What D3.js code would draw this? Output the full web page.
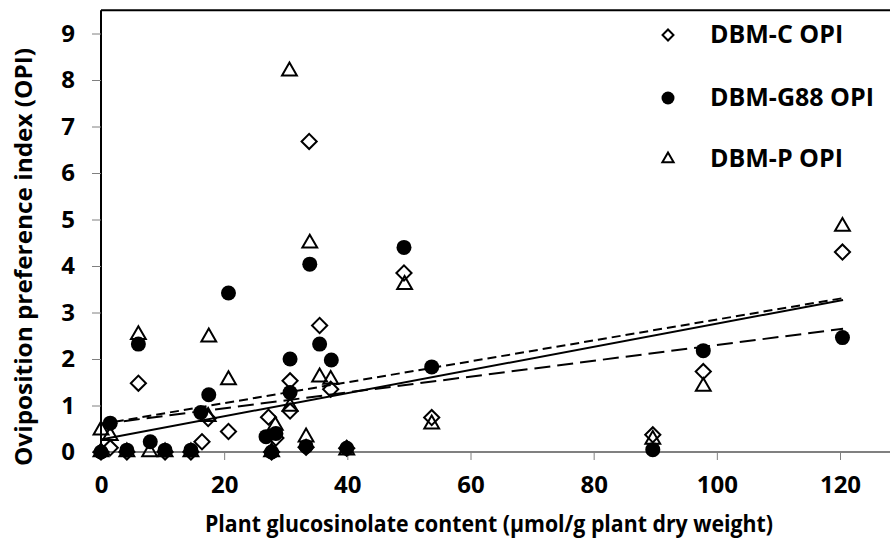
<!DOCTYPE html>
<html>
<head>
<meta charset="utf-8">
<script src="https://cdn.jsdelivr.net/npm/d3@7"></script>
<style>
    body { margin: 0; background: #fff; }
    text { font-family: "Open Sans", sans-serif; font-weight: 700; fill: #000; }
</style>
</head>
<body>
<div id="chart"></div>
<script>
"use strict";

// Values: [glucosinolate, OPI]
let dbmC = [[0, 0], [1.5, 0.09], [4.2, 0], [6.07, 1.48], [10.4, 0], [14.6, 0], [16.4, 0.22],
    [17.4, 0.72], [20.7, 0.44], [27.2, 0.75], [27.7, 0], [28.4, 0.3], [30.7, 1.53], [30.7, 0.88],
    [33.3, 0.1], [33.8, 6.68], [35.5, 2.72], [37.3, 1.35], [39.9, 0.08], [49.2, 3.85],
    [53.7, 0.74], [89.6, 0.37], [97.8, 1.73], [120.4, 4.3]];

let dbmG88 = [[0, 0], [1.5, 0.62], [4.2, 0.04], [6.07, 2.32], [8.0, 0.22], [10.4, 0.04],
    [14.6, 0.04], [16.2, 0.85], [17.5, 1.23], [20.7, 3.42], [26.8, 0.33], [27.7, 0], [28.4, 0.4],
    [30.7, 2.0], [30.7, 1.28], [33.3, 0.12], [33.9, 4.04], [35.5, 2.32], [37.4, 1.98],
    [39.9, 0.08], [49.2, 4.4], [53.7, 1.83], [89.6, 0.05], [97.8, 2.18], [120.4, 2.46]];

let dbmP = [[0, 0.47], [0, 0], [1.5, 0.35], [4.2, 0], [6.07, 2.52], [7.9, 0], [10.4, 0],
    [14.6, 0], [17.4, 0.76], [17.5, 2.47], [20.7, 1.55], [27.7, 0], [28.3, 0.57], [30.6, 8.19],
    [30.7, 0.98], [33.3, 0.32], [33.9, 4.49], [35.5, 1.61], [37.3, 1.56], [39.9, 0.04],
    [49.3, 3.6], [53.7, 0.6], [89.6, 0.27], [97.8, 1.41], [120.4, 4.85]];

// Linear trend lines, start and end point
let trendC = [[0, 0.27], [120.5, 3.27]];
let trendG88 = [[0, 0.6], [120.5, 2.65]];
let trendP = [[0, 0.6], [120.5, 3.31]];

let xTicks = [0, 20, 40, 60, 80, 100, 120];
let yTicks = [0, 1, 2, 3, 4, 5, 6, 7, 8, 9];
let legendNames = ["DBM-C OPI", "DBM-G88 OPI", "DBM-P OPI"];

let width = 890;
let height = 548;

let xScale = d3.scaleLinear().domain([0, 120]).range([101, 840]);
let yScale = d3.scaleLinear().domain([0, 9]).range([452, 33.5]);

let svg = d3.select("#chart").append("svg")
    .attr("width", width).attr("height", height);

// Plot frame (runs off the right edge like the original)
svg.append("line")
    .attr("x1", xScale(0)).attr("x2", xScale(135))
    .attr("y1", yScale(9.5)).attr("y2", yScale(9.5))
    .attr("stroke", "#000").attr("stroke-width", 2);
svg.append("line")
    .attr("x1", xScale(0)).attr("x2", xScale(0))
    .attr("y1", yScale(9.5)).attr("y2", yScale(0))
    .attr("stroke", "#000").attr("stroke-width", 2);

// y axis
let yAxis = svg.append("g").attr("transform", `translate(${xScale(0)},0)`)
    .call(d3.axisLeft(yScale).tickValues(yTicks).tickSize(9).tickPadding(17));
yAxis.select(".domain").remove();
yAxis.selectAll(".tick line").attr("stroke", "#808080");
yAxis.selectAll(".tick text").style("font-size", "24px");

// x axis
let xAxis = svg.append("g").attr("transform", `translate(0,${yScale(0)})`)
    .call(d3.axisBottom(xScale).tickValues(xTicks).tickSize(8).tickPadding(16));
xAxis.select(".domain").remove();
xAxis.selectAll(".tick line").attr("stroke", "#808080");
xAxis.selectAll(".tick text").style("font-size", "24px");
svg.append("line")
    .attr("x1", xScale(0)).attr("x2", xScale(135))
    .attr("y1", yScale(0)).attr("y2", yScale(0))
    .attr("stroke", "#808080").attr("stroke-width", 2);

// Axis titles
svg.append("text")
    .attr("x", 489).attr("y", 532)
    .attr("textLength", 568).attr("lengthAdjust", "spacingAndGlyphs")
    .style("text-anchor", "middle").style("font-size", "23px")
    .text("Plant glucosinolate content (µmol/g plant dry weight)");
svg.append("text")
    .attr("transform", "rotate(-90)")
    .attr("x", -257).attr("y", 32)
    .attr("textLength", 418).attr("lengthAdjust", "spacingAndGlyphs")
    .style("text-anchor", "middle").style("font-size", "23px")
    .text("Oviposition preference index (OPI)");

// Trend lines
let line = d3.line()
    .x(function (d) { return xScale(d[0]); })
    .y(function (d) { return yScale(d[1]); });

svg.append("path").datum(trendC).attr("d", line)
    .attr("fill", "none").attr("stroke", "#000").attr("stroke-width", 2);
svg.append("path").datum(trendG88).attr("d", line)
    .attr("fill", "none").attr("stroke", "#000").attr("stroke-width", 2)
    .attr("stroke-dasharray", "16,7");
svg.append("path").datum(trendP).attr("d", line)
    .attr("fill", "none").attr("stroke", "#000").attr("stroke-width", 2)
    .attr("stroke-dasharray", "9,5");

let diamond = d3.symbol().type(d3.symbolSquare).size(115);
let triangle = d3.symbol().type(d3.symbolTriangle).size(95);

// Markers
svg.selectAll(".dbmC").data(dbmC).enter()
    .append("path").attr("class", "dbmC")
    .attr("d", diamond)
    .attr("transform", function (d) {
        return `translate(${xScale(d[0])},${yScale(d[1])}) rotate(45)`;
    })
    .attr("fill", "none").attr("stroke", "#000").attr("stroke-width", 2);

svg.selectAll(".dbmP").data(dbmP).enter()
    .append("path").attr("class", "dbmP")
    .attr("d", triangle)
    .attr("transform", function (d) {
        return `translate(${xScale(d[0])},${yScale(d[1])})`;
    })
    .attr("fill", "none").attr("stroke", "#000").attr("stroke-width", 2);

svg.selectAll(".dbmG88").data(dbmG88).enter()
    .append("circle").attr("class", "dbmG88")
    .attr("cx", function (d) { return xScale(d[0]); })
    .attr("cy", function (d) { return yScale(d[1]); })
    .attr("r", 7.5)
    .attr("fill", "#000");

// Legend
let legend = svg.append("g").attr("transform", "translate(668,0)");
let legendY = [35, 98, 159];

legend.append("path").attr("d", d3.symbol().type(d3.symbolSquare).size(60))
    .attr("transform", `translate(0,${legendY[0]}) rotate(45)`)
    .attr("fill", "none").attr("stroke", "#000").attr("stroke-width", 2);
legend.append("circle").attr("cx", 0).attr("cy", legendY[1]).attr("r", 6.5)
    .attr("fill", "#000");
legend.append("path").attr("d", d3.symbol().type(d3.symbolTriangle).size(55))
    .attr("transform", `translate(0,${legendY[2]})`)
    .attr("fill", "none").attr("stroke", "#000").attr("stroke-width", 2);

legend.selectAll(".legText").data(legendNames).enter()
    .append("text").attr("class", "legText")
    .attr("x", 42)
    .attr("y", function (d, i) { return legendY[i] + 8; })
    .style("font-size", "25px")
    .text(function (d) { return d; });
</script>
</body>
</html>
